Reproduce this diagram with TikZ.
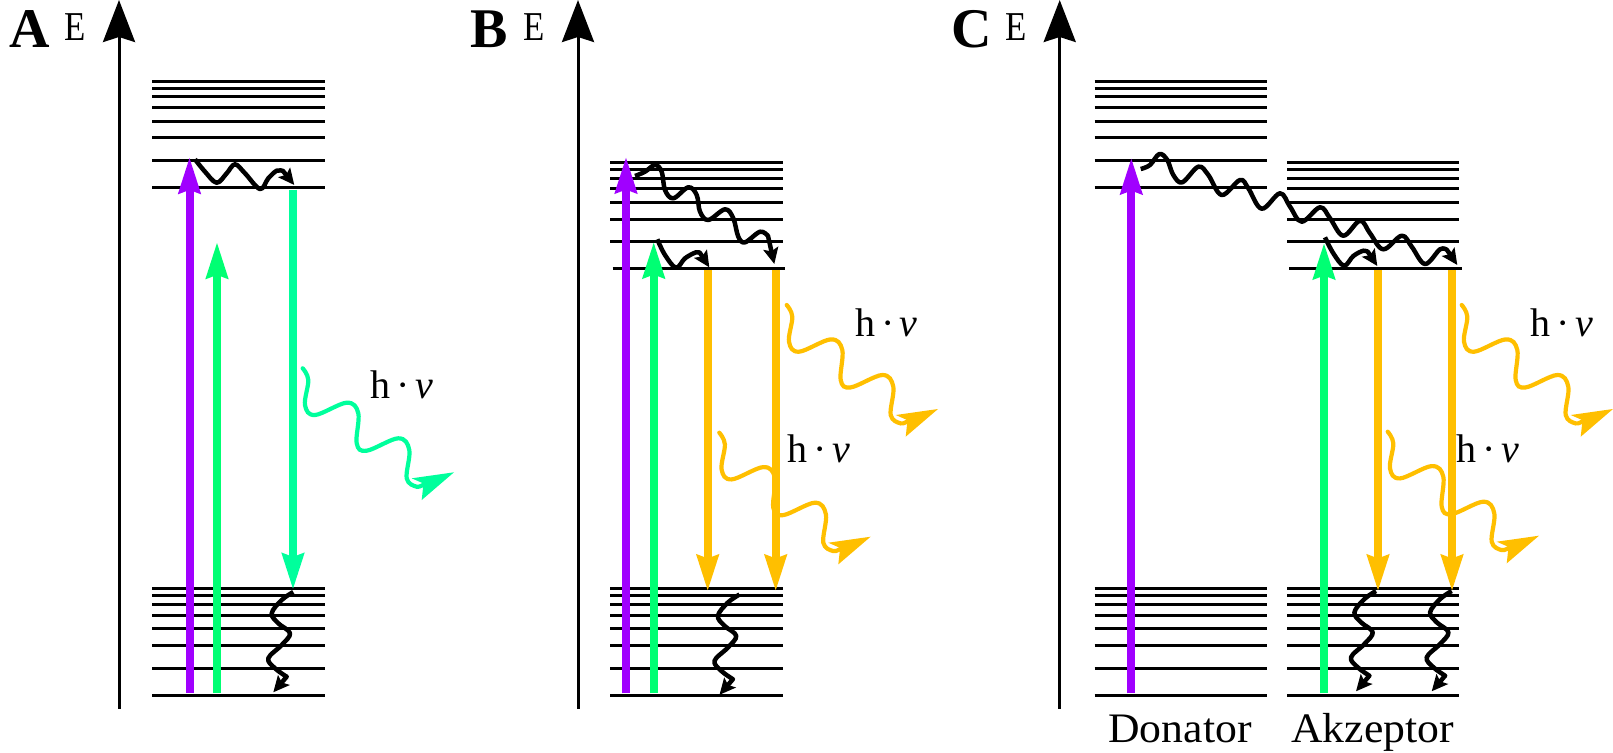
\documentclass[tikz,border=0pt]{standalone}
\usepackage{fontspec}
\setmainfont{Liberation Serif}
\newfontfamily\labelfont[FakeStretch=1.04]{Liberation Serif}
\usetikzlibrary{arrows.meta}
\definecolor{cviolet}{HTML}{A000FF}
\definecolor{cgreen}{HTML}{00FF73}
\definecolor{cteal}{HTML}{00FF9C}
\definecolor{camber}{HTML}{FFBF00}
\newcommand{\hv}{h\hspace{6pt}·\hspace{5pt}\textit{v}}
\newcommand{\hvfont}{\fontsize{40}{40}\selectfont}
\tikzset{
  elevel/.style={black,line width=3pt},
  axisline/.style={black,line width=3pt,-{Stealth[length=42pt,width=32pt,inset=5pt]}},
  excite/.style={line width=8pt,shorten >=-2.5pt,-{Stealth[length=36pt,width=21pt,inset=3pt]}},
  waveline/.style={black,line width=4.5pt,line join=round,-{Stealth[length=16pt,width=15pt,inset=3pt]}},
  photonline/.style={line width=4.2pt,line cap=round},
  panel/.style={inner sep=0pt,anchor=base west,font=\fontsize{56}{56}\selectfont\bfseries},
  axlabel/.style={inner sep=0pt,anchor=base,xscale=0.85,font=\fontsize{41}{41}\selectfont},
  hvlabel/.style={inner sep=0pt,anchor=base west,font=\hvfont},
  name label/.style={inner sep=0pt,anchor=base,font=\fontsize{42}{42}\labelfont},
  pics/photon/.style={code={
    \draw[photonline,#1] plot[smooth,tension=0.6] coordinates{(0,0) (5.6,11.7) (2.3,36.7) (12.3,46.7) (44,34.4) (55.6,45) (54,75) (64,82.4) (95.6,70) (106.6,81.7) (104,110) (114,118.4) (122,115.5)};
    \fill[#1] (151.3,104) -- (109,110) -- (120.8,115.2) -- (119,131.7) -- cycle;
  }},
  pics/downrelax/.style={code={
    \draw[waveline] plot[smooth,tension=0.6] coordinates{(0,0) (-11.6,8) (-21.6,21.3) (-15,31.3) (-3.3,41.3) (-11.6,53) (-25,66.3) (-18.3,76.3) (-6.6,84.7)} -- (-20,100.3);
  }}
}
\newcommand{\levels}[3]{\edef\lvlist{#3}\foreach \yy in \lvlist {\draw[elevel] (#1,\yy) -- (#2,\yy);}}
\begin{document}
\begin{tikzpicture}[x=1pt,y=-1pt]
\useasboundingbox (0,0) rectangle (1613,752);
% panel labels
\node[panel] (labA) at (9,47.7) {A};
\node[panel] (labB) at (470.5,47.7) {B};
\node[panel] (labC) at (951,47.7) {C};
\node[axlabel] (eA) at (75,40.7) {E};
\node[axlabel] (eB) at (534,40.7) {E};
\node[axlabel] (eC) at (1015.7,40.7) {E};
% axes
\coordinate (axAb) at (119,708.5); \coordinate (axAt) at (119,0);
\coordinate (axBb) at (578,708.5); \coordinate (axBt) at (578,0);
\coordinate (axCb) at (1059.7,708.5); \coordinate (axCt) at (1059.7,0);
\draw[axisline] (axAb) -- (axAt);
\draw[axisline] (axBb) -- (axBt);
\draw[axisline] (axCb) -- (axCt);
% energy levels
\def\upA{81.3,88,96.7,107.3,121,137.7,160.3,187.3}
\def\upB{162.7,169.3,178,188.7,202,219,241.7}
\def\low{588.7,595.7,604.3,615,628.3,645.3,668,695}
\levels{152.3}{324.7}{\upA}
\levels{152.3}{324.7}{\low}
\levels{610.3}{782.7}{\upB}
\levels{612.7}{785}{268.7}
\levels{610.3}{782.7}{\low}
\levels{1094.5}{1266.7}{\upA}
\levels{1094.5}{1266.7}{\low}
\levels{1287}{1459.3}{\upB}
\levels{1289}{1461.7}{268.7}
\levels{1287}{1459.3}{\low}
% photons
\pic at (302.7,368.3) {photon=cteal};
\pic at (786.7,305) {photon=camber};
\pic at (719.3,432.7) {photon=camber};
\pic at (1461.7,305) {photon=camber};
\pic at (1387.7,431.7) {photon=camber};
% vertical arrows A
\coordinate (a1b) at (189.5,693); \coordinate (a1t) at (189.5,159.3);
\coordinate (a2b) at (217,693); \coordinate (a2t) at (217,244.3);
\coordinate (a3t) at (293,189.5); \coordinate (a3b) at (293,587.5);
\draw[excite,cviolet] (a1b) -- (a1t);
\draw[excite,cgreen] (a2b) -- (a2t);
\draw[excite,cteal] (a3t) -- (a3b);
% vertical arrows B
\coordinate (b1b) at (626,693.3); \coordinate (b1t) at (626,159);
\coordinate (b2b) at (653.7,693.3); \coordinate (b2t) at (653.7,244);
\coordinate (b3t) at (707.7,270); \coordinate (b3b) at (707.7,589);
\coordinate (b4t) at (775.7,270); \coordinate (b4b) at (775.7,589);
\draw[excite,cviolet] (b1b) -- (b1t);
\draw[excite,cgreen] (b2b) -- (b2t);
\draw[excite,camber] (b3t) -- (b3b);
\draw[excite,camber] (b4t) -- (b4b);
% vertical arrows C
\coordinate (c1b) at (1131.3,693.3); \coordinate (c1t) at (1131.3,160);
\coordinate (c2b) at (1324,693.3); \coordinate (c2t) at (1324,245);
\coordinate (c3t) at (1378,270); \coordinate (c3b) at (1378,589);
\coordinate (c4t) at (1452,270); \coordinate (c4b) at (1452,589);
\draw[excite,cviolet] (c1b) -- (c1t);
\draw[excite,cgreen] (c2b) -- (c2t);
\draw[excite,camber] (c3t) -- (c3b);
\draw[excite,camber] (c4t) -- (c4b);
% radiationless relaxation
\coordinate (wAe) at (294.3,185);
\draw[waveline] plot[smooth,tension=0.6] coordinates{(195,159.3) (205,171.7) (216.7,182.7) (226.7,173.3) (235,164.3) (245,173.3) (260,189) (268.3,178.3) (276.7,170.7) (283,171)} -- (wAe);
\coordinate (wB1e) at (774.3,264);
\draw[waveline] plot[smooth,tension=0.6] coordinates{(635,176) (645,171.7) (655,165) (661.7,171.7) (665,190) (673.3,198.3) (688.3,187.3) (696.7,195) (700,211.7) (708.3,220) (725,209.3) (733.3,218.3) (738.3,236.7) (745,242.3) (760,231.7) (768,236)} -- (wB1e);
\coordinate (wB2e) at (709.3,267.3);
\draw[waveline] plot[smooth,tension=0.6] coordinates{(657.3,239.3) (665,255) (676,267.7) (685,258.3) (696,252.3) (700,253)} -- (wB2e);
\coordinate (wC1e) at (1457.3,265);
\draw[waveline] plot[smooth,tension=0.6] coordinates{(1140.7,169) (1150,165) (1159.3,154) (1167.3,160) (1173.3,175) (1182.3,182.3) (1198.3,166.7) (1208.3,175) (1221.7,195) (1240,180) (1248.3,188.3) (1261.7,208.7) (1280,193.3) (1290,206.7) (1301.7,221.7) (1320,207.3) (1330,218.3) (1343.3,235.7) (1360,220.7) (1370,233.3) (1383.3,249.3) (1401.7,235.7) (1411.7,246.7) (1425,264) (1440,249.3) (1447,250)} -- (wC1e);
\coordinate (wC2e) at (1377.3,266);
\draw[waveline] plot[smooth,tension=0.6] coordinates{(1325,237.3) (1333.3,253.3) (1344,265.7) (1353.3,256) (1363.3,250.7) (1368,252)} -- (wC2e);
\pic at (293.3,592) {downrelax};
\pic at (739.5,594.5) {downrelax};
\pic at (1376,591) {downrelax};
\pic at (1451.7,591) {downrelax};
% photon labels
\node[hvlabel] (hvA) at (370.7,398.3) {\hv};
\node[hvlabel] (hvB1) at (855,336) {\hv};
\node[hvlabel] (hvB2) at (787.5,462.5) {\hv};
\node[hvlabel] (hvC1) at (1530.5,336) {\hv};
\node[hvlabel] (hvC2) at (1456.5,462.5) {\hv};
% names
\node[name label] (don) at (1180,742.7) {Donator};
\node[name label] (akz) at (1372.5,742.7) {Akzeptor};
\end{tikzpicture}
\end{document}
